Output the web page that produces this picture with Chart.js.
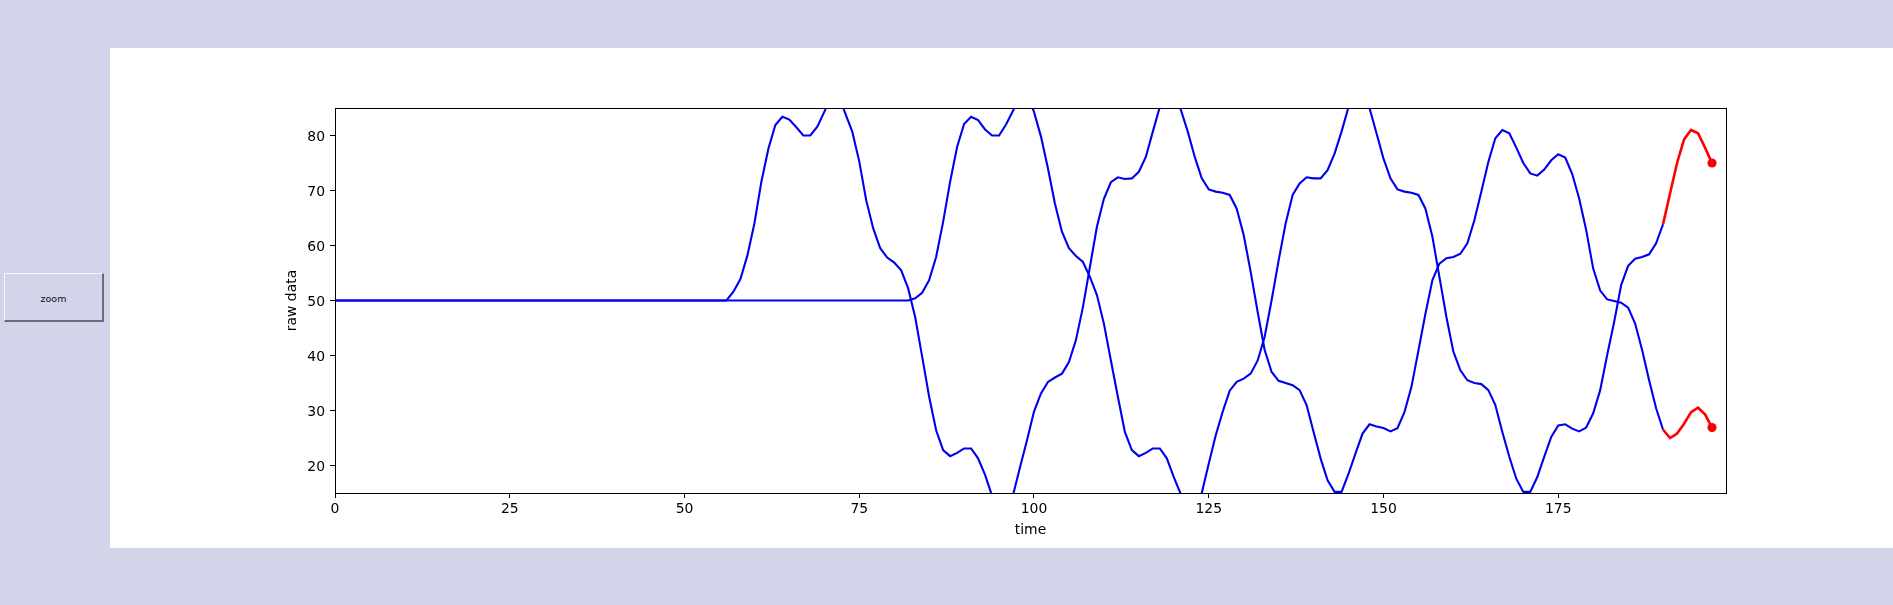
<!DOCTYPE html>
<html>
<head>
<meta charset="utf-8">
<script src="https://cdn.jsdelivr.net/npm/chart.js@4.4.1/dist/chart.umd.min.js"></script>
<style>
  body {
    margin: 0;
    width: 1893px;
    height: 605px;
    overflow: hidden;
    position: relative;
    background: #d3d3ea;
    font-family: "DejaVu Sans", sans-serif;
  }
  #panel {
    position: absolute;
    left: 110px;
    top: 48px;
    width: 1783px;
    height: 500px;
    background: #ffffff;
  }
  #zoom-btn {
    position: absolute;
    left: 4px;
    top: 273px;
    width: 100px;
    height: 49px;
    box-sizing: border-box;
    padding-top: 3px;
    background: #d3d3ea;
    border-top: 1px solid #f4f4fb;
    border-left: 1px solid #f4f4fb;
    border-right: 2px solid #6c6c78;
    border-bottom: 2px solid #6c6c78;
    font-size: 9.5px;
    color: #111;
    display: flex;
    align-items: center;
    justify-content: center;
  }
</style>
</head>
<body>
<div id="zoom-btn">zoom</div>
<div id="panel"><canvas id="chart" width="1783" height="500"></canvas></div>
<script>
// two delayed signals, sample index 0..197
const SERIES_A = [
  50, 50, 50, 50, 50, 50, 50, 50, 50, 50,
  50, 50, 50, 50, 50, 50, 50, 50, 50, 50,
  50, 50, 50, 50, 50, 50, 50, 50, 50, 50,
  50, 50, 50, 50, 50, 50, 50, 50, 50, 50,
  50, 50, 50, 50, 50, 50, 50, 50, 50, 50,
  50, 50, 50, 50, 50, 50, 50, 51.6, 53.9, 58.2,
  64.0, 71.6, 77.6, 81.9, 83.4, 82.9, 81.5, 80.0, 80.0, 81.6,
  84.3, 87.0, 87.6, 84.0, 80.7, 75.3, 68.2, 63.1, 59.5, 57.8,
  56.9, 55.5, 52.2, 47.0, 39.8, 32.5, 26.4, 22.8, 21.7, 22.3,
  23.1, 23.1, 21.3, 18.3, 14.5, 12.0, 12.0, 14.6, 19.7, 24.6,
  29.8, 33.1, 35.2, 36.0, 36.7, 38.8, 42.8, 48.8, 56.1, 63.4,
  68.5, 71.5, 72.4, 72.1, 72.2, 73.4, 76.1, 80.7, 85.2, 87.6,
  87.6, 84.7, 80.7, 76.1, 72.2, 70.2, 69.8, 69.6, 69.2, 66.7,
  61.9, 55.2, 47.9, 41.0, 37.0, 35.4, 35.0, 34.6, 33.7, 31.0,
  26.1, 21.3, 17.3, 15.2, 15.2, 18.5, 22.2, 25.8, 27.5, 27.1,
  26.8, 26.2, 26.8, 29.7, 34.3, 40.9, 47.6, 53.7, 56.7, 57.7,
  57.9, 58.5, 60.4, 64.6, 69.8, 75.2, 79.5, 81.0, 80.4, 77.8,
  75.0, 73.1, 72.7, 73.8, 75.5, 76.6, 76.0, 73.0, 68.5, 62.8,
  55.8, 51.8, 50.2, 49.9, 49.6, 48.7, 45.8, 41.0, 35.5, 30.4,
  26.5, 25.0, 25.8, 27.6, 29.7, 30.5, 29.3, 26.9
];
const SERIES_B = [
  50, 50, 50, 50, 50, 50, 50, 50, 50, 50,
  50, 50, 50, 50, 50, 50, 50, 50, 50, 50,
  50, 50, 50, 50, 50, 50, 50, 50, 50, 50,
  50, 50, 50, 50, 50, 50, 50, 50, 50, 50,
  50, 50, 50, 50, 50, 50, 50, 50, 50, 50,
  50, 50, 50, 50, 50, 50, 50, 50, 50, 50,
  50, 50, 50, 50, 50, 50, 50, 50, 50, 50,
  50, 50, 50, 50, 50, 50, 50, 50, 50, 50,
  50, 50, 50, 50.4, 51.4, 53.7, 57.9, 64.3, 71.6, 77.9,
  82.1, 83.4, 82.8, 81.1, 80.0, 80.0, 82.0, 84.5, 87.2, 87.6,
  84.3, 79.8, 74.0, 67.6, 62.5, 59.5, 58.1, 57.0, 54.3, 51.0,
  45.8, 39.1, 32.5, 26.1, 22.8, 21.7, 22.3, 23.1, 23.1, 21.3,
  17.9, 14.8, 12.0, 12.0, 15.0, 20.3, 25.5, 29.8, 33.6, 35.2,
  35.8, 36.7, 39.1, 43.4, 50.1, 57.3, 64.0, 69.2, 71.3, 72.4,
  72.2, 72.2, 73.7, 76.7, 80.7, 85.2, 87.6, 87.6, 85.0, 80.4,
  75.8, 72.2, 70.2, 69.8, 69.6, 69.2, 66.7, 61.6, 54.3, 47.0,
  40.7, 37.3, 35.5, 35.0, 34.8, 33.7, 31.0, 26.1, 21.6, 17.6,
  15.2, 15.2, 17.9, 21.6, 25.2, 27.3, 27.5, 26.7, 26.2, 26.9,
  29.5, 33.7, 40.1, 46.1, 52.8, 56.3, 57.6, 57.9, 58.4, 60.4,
  63.9, 69.5, 75.0, 79.3, 81.0, 80.4, 77.8, 75.0
];
const TIME = SERIES_A.map((_, i) => i);
const TAIL_START = 190;   // last samples drawn in red
const X_TICKS = [0, 25, 50, 75, 100, 125, 150, 175];
const Y_TICKS = [20, 30, 40, 50, 60, 70, 80];
const X_RANGE = [0, 199];
const Y_RANGE = [15, 85];

const BLUE = '#0000f0';
const RED = '#ff0000';

Chart.defaults.font.family = '"DejaVu Sans", sans-serif';
Chart.defaults.font.size = 13.9;
Chart.defaults.color = '#000';

function to_points(values, from, to) {
  return TIME.slice(from, to).map((t, i) => ({x: t, y: values[from + i]}));
}

function body_dataset(values) {
  return {
    data: to_points(values, 0, TAIL_START + 1),
    borderColor: BLUE,
    borderWidth: 2.1,
    pointRadius: 0,
    clip: 0,
    order: 2,
  };
}

function tail_dataset(values) {
  const points = to_points(values, TAIL_START, values.length);
  return {
    data: points,
    borderColor: RED,
    borderWidth: 2.6,
    pointRadius: (ctx) => ctx.dataIndex === points.length - 1 ? 4.6 : 0,
    pointBackgroundColor: RED,
    pointBorderWidth: 0,
    clip: 0,
    order: 1,
  };
}

const FRAME_PLUGIN = {
  id: 'frame',
  afterDraw(chart) {
    const {ctx, chartArea} = chart;
    const x0 = Math.round(chartArea.left) + 0.5;
    const y0 = Math.round(chartArea.top) + 0.5;
    const x1 = Math.round(chartArea.right) + 0.5;
    const y1 = Math.round(chartArea.bottom) + 0.5;
    ctx.save();
    ctx.strokeStyle = '#000';
    ctx.lineWidth = 1;
    ctx.strokeRect(x0, y0, x1 - x0, y1 - y0);
    ctx.restore();
  },
};

const AXIS_GRID = {
  drawOnChartArea: false,
  drawTicks: true,
  tickLength: 5,
  color: '#000',
  lineWidth: 1,
};

new Chart(document.getElementById('chart'), {
  type: 'line',
  data: {
    datasets: [
      body_dataset(SERIES_A),
      body_dataset(SERIES_B),
      tail_dataset(SERIES_A),
      tail_dataset(SERIES_B),
    ],
  },
  options: {
    responsive: false,
    animation: false,
    events: [],
    layout: {
      padding: {left: 160, top: 60, right: 167, bottom: 0},
    },
    plugins: {
      legend: {display: false},
      tooltip: {enabled: false},
    },
    scales: {
      x: {
        type: 'linear',
        min: X_RANGE[0],
        max: X_RANGE[1],
        afterBuildTicks: (scale) => { scale.ticks = X_TICKS.map((v) => ({value: v})); },
        afterFit: (scale) => { scale.height = 55; },
        ticks: {padding: 3, autoSkip: false, maxRotation: 0},
        grid: AXIS_GRID,
        border: {display: true, color: '#000', width: 1},
        title: {display: true, text: 'time', padding: {top: 0, bottom: 9.5}},
      },
      y: {
        type: 'linear',
        min: Y_RANGE[0],
        max: Y_RANGE[1],
        afterBuildTicks: (scale) => { scale.ticks = Y_TICKS.map((v) => ({value: v})); },
        afterFit: (scale) => { scale.width = 65; },
        ticks: {padding: 5, autoSkip: false, labelOffset: 1.5},
        grid: AXIS_GRID,
        border: {display: true, color: '#000', width: 1},
        title: {display: true, text: 'raw data', padding: {top: 14.4, bottom: 0}},
      },
    },
  },
  plugins: [FRAME_PLUGIN],
});
</script>
</body>
</html>
